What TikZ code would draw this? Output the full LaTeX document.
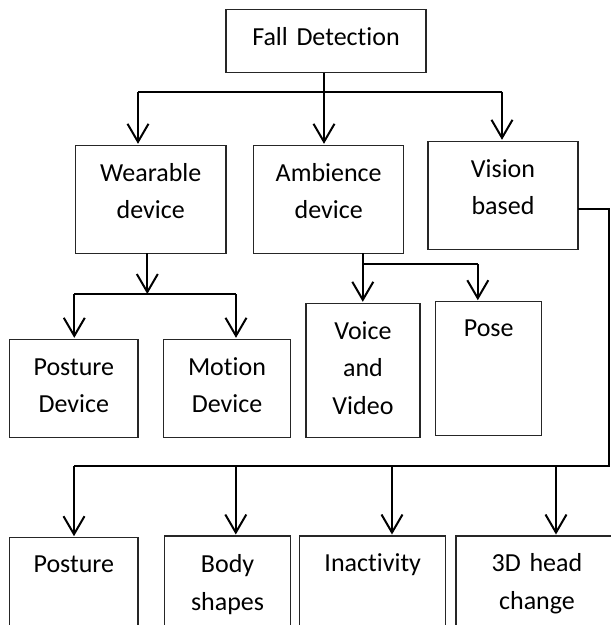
\documentclass[tikz,border=0pt]{standalone}
\usepackage{fontspec}
\setmainfont{Carlito}[Ligatures=NoCommon]
\usetikzlibrary{arrows.meta}
\tikzset{
  box/.style={draw=black!85, line width=1.3pt, inner sep=0pt, outer sep=0pt,
    anchor=north west, align=center, font={\fontsize{26pt}{37.5pt}\selectfont}},
  conn/.style={draw=black, line width=2pt},
  arr/.style={conn, -{Straight Barb[length=18pt,width=21pt]}, shorten >=1.5pt}
}
\begin{document}
\begin{tikzpicture}[x=1pt,y=-1pt]
\useasboundingbox (0,0) rectangle (611,625);
\clip (0,0) rectangle (611,625);
% boxes
\node[box, text width=200pt, text height=35.7pt, text depth=27.7pt] (fall) at (226,9.3) {Fall Detection};
\node[box, text width=150.4pt, text height=36pt, text depth=72pt] (wear) at (75.6,145.3) {Wearable\\device};
\node[box, text width=150pt, text height=36pt, text depth=72pt] (amb) at (253.7,145.3) {Ambience\\device};
\node[box, text width=150pt, text height=36pt, text depth=72pt] (vis) at (428,141.3) {Vision\\based};
\node[box, text width=128.3pt, text height=36pt, text depth=62pt] (pdev) at (9.7,339.3) {Posture\\Device};
\node[box, text width=126.6pt, text height=36pt, text depth=62pt] (mdev) at (163.7,339.3) {Motion\\Device};
\node[box, text width=114pt, text height=36pt, text depth=98pt] (voice) at (306,303.3) {Voice\\and\\Video};
\node[box, text width=106pt, text height=35pt, text depth=99pt] (pose) at (435.7,301.7) {Pose};
\node[box, text width=128.3pt, text height=35pt, text depth=90pt] (post) at (9.7,537.7) {Posture};
\node[box, text width=125.5pt, text height=36.5pt, text depth=90pt] (body) at (164.8,536) {Body\\shapes};
\node[box, text width=146.1pt, text height=35pt, text depth=90pt] (inact) at (299.7,536) {Inactivity};
\node[box, text width=162pt, text height=35.7pt, text depth=90pt] (head) at (456,536) {3D head\\change};
% level 1 connectors
\coordinate (b1L) at (138,91.7);
\coordinate (b1M) at (324,91.7);
\coordinate (b1R) at (502,91.7);
\draw[conn] (b1L) -- (b1R);
\draw[arr] (b1M |- fall.south) -- (b1M |- amb.north);
\draw[arr] (b1L) -- (b1L |- wear.north);
\draw[arr] (b1R) -- (b1R |- vis.north);
% wearable
\coordinate (w0) at (147.3,294);
\coordinate (wL) at (74.3,294);
\coordinate (wR) at (236,294);
\draw[arr, shorten >=0pt] (w0 |- wear.south) -- (w0);
\draw[conn] (wL) -- (wR);
\draw[arr] (wL) -- (wL |- pdev.north);
\draw[arr] (wR) -- (wR |- mdev.north);
% ambience
\coordinate (aL) at (362.8,264.3);
\coordinate (aR) at (477.8,264.3);
\draw[conn] (aL |- amb.south) -- (aL) -- (aR);
\draw[arr] (aL) -- (aL |- voice.north);
\draw[arr] (aR) -- (aR |- pose.north);
% vision
\coordinate (v1) at (609.3,209);
\coordinate (v2) at (609.3,466);
\coordinate (v3) at (74,466);
\coordinate (d2) at (235.8,466);
\coordinate (d3) at (392,466);
\coordinate (d4) at (556,466);
\draw[conn] (vis.east |- v1) -- (v1) -- (v2) -- (v3);
\draw[arr] (v3) -- (v3 |- post.north);
\draw[arr] (d2) -- (d2 |- body.north);
\draw[arr] (d3) -- (d3 |- inact.north);
\draw[arr] (d4) -- (d4 |- head.north);
\end{tikzpicture}
\end{document}
